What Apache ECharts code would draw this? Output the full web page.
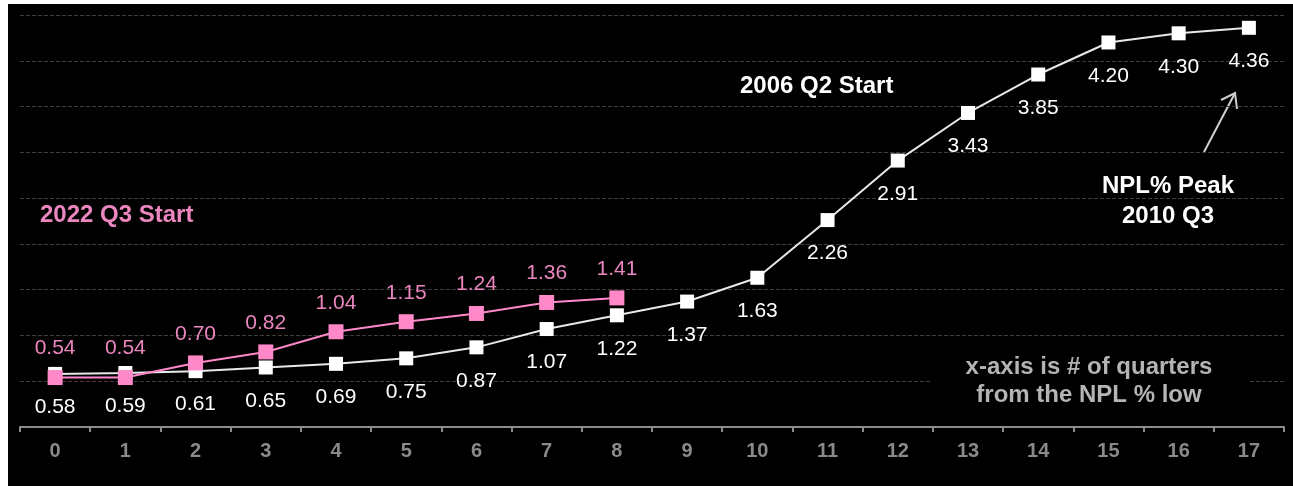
<!DOCTYPE html>
<html>
<head>
<meta charset="utf-8">
<script src="https://cdn.jsdelivr.net/npm/echarts@6/dist/echarts.min.js"></script>
<style>
  html, body { margin: 0; padding: 0; background: #fff; }
  #chart { position: absolute; left: 8px; top: 4px; width: 1285px; height: 482px; }
</style>
</head>
<body>
<div id="chart"></div>
<script>
// quarters from the NPL % low
const quarters = ['0','1','2','3','4','5','6','7','8','9','10','11','12','13','14','15','16','17'];
// 2006 Q2 start cycle (white)
const npl2006 = [0.58, 0.59, 0.61, 0.65, 0.69, 0.75, 0.87, 1.07, 1.22, 1.37, 1.63, 2.26, 2.91, 3.43, 3.85, 4.20, 4.30, 4.36];
// 2022 Q3 start cycle (pink)
const npl2022 = [0.54, 0.54, 0.70, 0.82, 1.04, 1.15, 1.24, 1.36, 1.41];

const font = '"Liberation Sans", Arial, sans-serif';
const pink = '#ff88c8';
const pinkText = '#ec86bf';

const chart = echarts.init(document.getElementById('chart'));

chart.setOption({
    backgroundColor: '#000',
    animation: false,
    textStyle: { fontFamily: font },
    grid: {
        left: 12,
        right: 9,
        top: 11,
        bottom: 59
    },
    xAxis: {
        type: 'category',
        data: quarters,
        boundaryGap: true,
        axisLine: { lineStyle: { color: '#8c8c8c', width: 2 } },
        axisTick: { show: true, length: 5, lineStyle: { color: '#8c8c8c', width: 2 } },
        axisLabel: {
            color: '#8a8a8a',
            fontSize: 20,
            fontWeight: 'bold',
            fontFamily: font,
            margin: 14
        },
        splitLine: { show: false }
    },
    yAxis: {
        type: 'value',
        min: 0,
        max: 4.5,
        interval: 0.5,
        axisLabel: { show: false },
        axisLine: { show: false },
        axisTick: { show: false },
        splitLine: {
            show: true,
            lineStyle: { color: '#3c3c3c', type: [4, 2], width: 1 }
        }
    },
    series: [
        {
            name: '2006 Q2 Start',
            type: 'line',
            data: npl2006,
            symbol: 'rect',
            symbolSize: 14,
            lineStyle: { color: '#e8e8e8', width: 2 },
            itemStyle: { color: '#fff' },
            label: {
                show: true,
                position: 'bottom',
                distance: 16,
                color: '#fff',
                fontSize: 21,
                fontFamily: font,
                formatter: p => p.value.toFixed(2)
            },
            z: 2
        },
        {
            name: '2022 Q3 Start',
            type: 'line',
            data: npl2022,
            symbol: 'rect',
            symbolSize: 15,
            lineStyle: { color: pink, width: 2 },
            itemStyle: { color: pink },
            label: {
                show: true,
                position: 'top',
                distance: 11,
                color: pinkText,
                fontSize: 21,
                fontFamily: font,
                formatter: p => p.value.toFixed(2)
            },
            z: 3
        }
    ],
    graphic: [
        {
            type: 'text',
            x: 732,
            y: 82,
            style: { text: '2006 Q2 Start', fill: '#fff', font: 'bold 24px ' + font, verticalAlign: 'middle' }
        },
        {
            type: 'text',
            x: 32,
            y: 211,
            style: { text: '2022 Q3 Start', fill: pinkText, font: 'bold 24px ' + font, verticalAlign: 'middle' }
        },
        {
            type: 'text',
            x: 1160,
            y: 197,
            style: {
                text: 'NPL% Peak\n2010 Q3',
                fill: '#fff',
                font: 'bold 24px ' + font,
                align: 'center',
                verticalAlign: 'middle',
                lineHeight: 30
            }
        },
        {
            type: 'line',
            shape: { x1: 1196, y1: 148, x2: 1226, y2: 91 },
            style: { stroke: '#d0d0d0', lineWidth: 2 }
        },
        {
            type: 'polyline',
            shape: { points: [[1213, 96], [1227, 89], [1229, 105]] },
            style: { stroke: '#d0d0d0', lineWidth: 2, fill: null }
        },
        {
            type: 'rect',
            shape: { x: 922, y: 345, width: 320, height: 62 },
            style: { fill: '#000' },
            z: 10
        },
        {
            type: 'text',
            x: 1081,
            y: 377,
            z: 11,
            style: {
                text: 'x-axis is # of quarters\nfrom the NPL % low',
                fill: '#b4b4b4',
                font: 'bold 24px ' + font,
                align: 'center',
                verticalAlign: 'middle',
                lineHeight: 28
            }
        }
    ]
});
</script>
</body>
</html>
